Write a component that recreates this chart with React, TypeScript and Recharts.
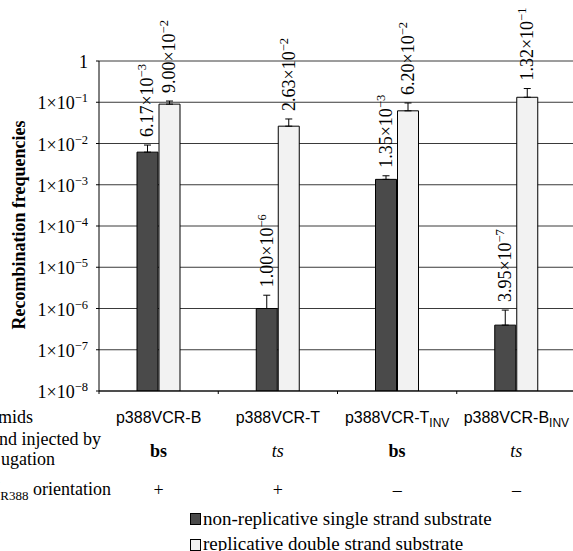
import React from 'react';
import { BarChart, Bar, XAxis, YAxis, CartesianGrid, ErrorBar, Legend } from 'recharts';

const SERIF = '"Liberation Serif", "Times New Roman", serif';
const SANS = '"Liberation Sans", Arial, sans-serif';

// categories and row annotations
const plasmids = ['p388VCR-B', 'p388VCR-T', 'p388VCR-T', 'p388VCR-B'];
const plasmidSubs = ['', '', 'INV', 'INV'];
const strands = ['bs', 'ts', 'bs', 'ts'];
const orientations = ['+', '+', '\u2013', '\u2013'];

// series values (upper error only)
const singleStrand = [6.17e-3, 1.0e-6, 1.35e-3, 3.95e-7];
const singleStrandErr = [3.0e-3, 1.1e-6, 0.3e-3, 5.2e-7];
const doubleStrand = [9.0e-2, 2.63e-2, 6.2e-2, 1.32e-1];
const doubleStrandErr = [1.7e-2, 1.3e-2, 3.4e-2, 8.3e-2];

const yTicks = [1e-8, 1e-7, 1e-6, 1e-5, 1e-4, 1e-3, 1e-2, 1e-1, 1];
const yDomain: [number, number] = [1e-8, 1];

const data = plasmids.map((p, i) => ({
  key: `${p}${plasmidSubs[i]}`,
  single: singleStrand[i],
  singleErr: [0, singleStrandErr[i]],
  double: doubleStrand[i],
  doubleErr: [0, doubleStrandErr[i]],
}));

const YTick = ({ x, y, payload }: any) => {
  const e = Math.round(Math.log10(payload.value));
  return (
    <text x={x} y={y + 7} textAnchor="end" fontFamily={SERIF} fontSize={18} fill="#000">
      {e === 0 ? '1' : (
        <>
          1×10<tspan dy={-7} fontSize={12.5}>{`\u2212${-e}`}</tspan>
        </>
      )}
    </text>
  );
};

const XTick = ({ x, y, payload }: any) => {
  const i = payload.index;
  const half = payload.offset ?? 0;
  return (
    <g>
      {i === 0 && <line x1={x - half} x2={x - half} y1={y} y2={y + 3} stroke="#000" />}
      <line x1={x + half} x2={x + half} y1={y} y2={y + 3} stroke="#000" />
      <text x={x} y={y + 32} textAnchor="middle" fontFamily={SANS} fontSize={16} fill="#000">
        {plasmids[i]}
        {plasmidSubs[i] && <tspan dy={4} fontSize={12}>{plasmidSubs[i]}</tspan>}
      </text>
      <text
        x={x}
        y={y + 66}
        textAnchor="middle"
        fontFamily={SERIF}
        fontSize={18}
        fontWeight={strands[i] === 'bs' ? 'bold' : 'normal'}
        fontStyle={strands[i] === 'ts' ? 'italic' : 'normal'}
        fill="#000"
      >
        {strands[i]}
      </text>
      <text x={x} y={y + 105} textAnchor="middle" fontFamily={SERIF} fontSize={18} fill="#000">
        {orientations[i]}
      </text>
    </g>
  );
};

const valueLabel = (errs: number[]) => (props: any) => {
  const { x, y, width, height, value, index } = props;
  const v = Number(value);
  const pxPerDecade = Number(height) / Math.log10(v / yDomain[0]);
  const errTop = Number(y) - pxPerDecade * Math.log10((v + errs[index]) / v);
  const [mant, exp] = v.toExponential(2).split('e');
  const cx = Number(x) + Number(width) / 2 + 6;
  const cy = errTop - 8;
  return (
    <text
      key={`lbl-${index}`}
      x={cx}
      y={cy}
      transform={`rotate(-90 ${cx} ${cy})`}
      fontFamily={SERIF}
      fontSize={18}
      fill="#000"
    >
      {mant}×10<tspan dy={-7} fontSize={12.5}>{`\u2212${Math.abs(Number(exp))}`}</tspan>
    </text>
  );
};

const LegendBox = ({ payload }: any) => (
  <svg width={383} height={46}>
    {(payload || []).map((entry: any, i: number) => (
      <g key={`leg-${i}`}>
        <rect x={0.5} y={7.5 + i * 26} width={10} height={11} fill={entry.color} stroke="#000" />
        <text x={13} y={19 + i * 25} fontFamily={SERIF} fontSize={19} fill="#000">
          {entry.value}
        </text>
      </g>
    ))}
  </svg>
);

export default function App() {
  return (
    <div style={{ position: 'fixed', left: 0, top: 0, width: 573, height: 551, overflow: 'hidden', background: '#fff' }}>
      <BarChart
        width={580}
        height={551}
        data={data}
        margin={{ top: 61, right: 4, left: 0, bottom: 0 }}
        barSize={21}
        barGap={1}
      >
        <CartesianGrid vertical={false} stroke="#3a3a3a" />
        <XAxis
          dataKey="key"
          type="category"
          interval={0}
          height={160}
          tickLine={false}
          tickSize={0}
          tickMargin={0}
          axisLine={{ stroke: '#000' }}
          tick={<XTick />}
        />
        <YAxis
          type="number"
          scale="log"
          domain={yDomain}
          ticks={yTicks}
          allowDataOverflow
          width={99}
          tickSize={3}
          tickMargin={8}
          axisLine={{ stroke: '#000' }}
          tickLine={{ stroke: '#000' }}
          tick={<YTick />}
        />
        <Legend
          layout="horizontal"
          align="center"
          verticalAlign="middle"
          content={<LegendBox />}
          wrapperStyle={{ position: 'absolute', left: 190, top: 506, width: 383, height: 46 }}
        />
        <Bar
          dataKey="single"
          name="non-replicative single strand substrate"
          fill="#4a4a4a"
          stroke="#000"
          strokeWidth={1}
          isAnimationActive={false}
          label={valueLabel(singleStrandErr)}
        >
          <ErrorBar dataKey="singleErr" direction="y" width={3.5} stroke="#000" strokeWidth={1} />
        </Bar>
        <Bar
          dataKey="double"
          name="replicative double strand substrate"
          fill="#f2f2f2"
          stroke="#000"
          strokeWidth={1}
          isAnimationActive={false}
          label={valueLabel(doubleStrandErr)}
        >
          <ErrorBar dataKey="doubleErr" direction="y" width={3.5} stroke="#000" strokeWidth={1} />
        </Bar>
      </BarChart>
      <svg
        width={573}
        height={551}
        style={{ position: 'absolute', left: 0, top: 0, pointerEvents: 'none' }}
      >
        <text
          x={25}
          y={225}
          transform="rotate(-90 25 225)"
          textAnchor="middle"
          fontFamily={SERIF}
          fontSize={18}
          fontWeight="bold"
          fill="#000"
        >
          Recombination frequencies
        </text>
        <g fontFamily={SERIF} fontSize={18} fill="#000" textAnchor="end">
          <text x={33} y={423}>Plasmids</text>
          <text x={101} y={445}>Strand injected by</text>
          <text x={55} y={465}>conjugation</text>
          <text x={111} y={495}>
            attI<tspan dy={5} fontSize={13}>R388</tspan>
            <tspan dy={-5}> orientation</tspan>
          </text>
        </g>
      </svg>
    </div>
  );
}
